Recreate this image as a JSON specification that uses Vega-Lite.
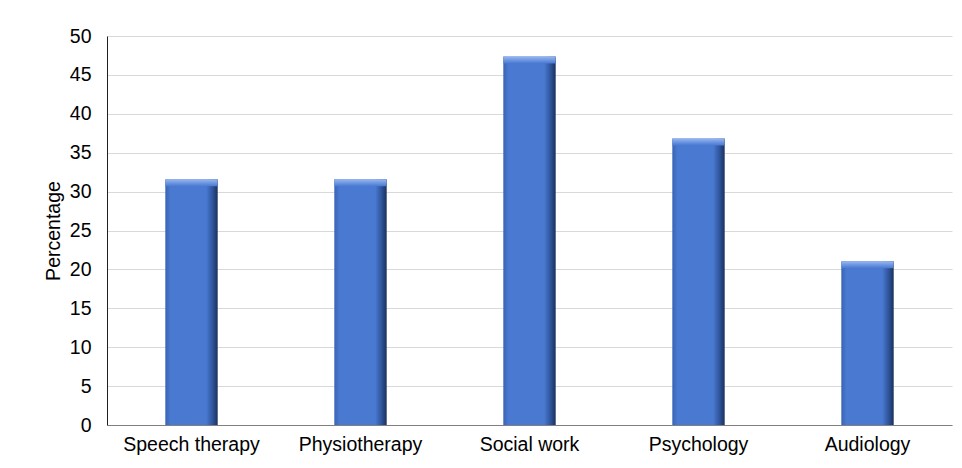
{
  "$schema": "https://vega.github.io/schema/vega-lite/v6.json",
  "width": 845,
  "height": 389,
  "autosize": {"type": "none"},
  "padding": {"left": 107, "top": 36, "right": 10, "bottom": 43},
  "background": "white",
  "config": {
    "view": {"stroke": null},
    "font": "Liberation Sans",
    "axis": {"labelFont": "Liberation Sans", "titleFont": "Liberation Sans"}
  },
  "data": {
    "values": [
      {"field": "Speech therapy", "pct": 31.58},
      {"field": "Physiotherapy", "pct": 31.58},
      {"field": "Social work", "pct": 47.37},
      {"field": "Psychology", "pct": 36.84},
      {"field": "Audiology", "pct": 21.05}
    ]
  },
  "encoding": {
    "x": {
      "field": "field",
      "type": "nominal",
      "sort": null,
      "scale": {"paddingInner": 0.69, "paddingOuter": 0.345},
      "axis": {
        "title": null,
        "labelAngle": 0,
        "labelFontSize": 19.5,
        "labelColor": "#000000",
        "labelPadding": 10,
        "ticks": false,
        "domainColor": "#808080",
        "domainWidth": 1.2
      }
    },
    "y": {
      "field": "pct",
      "type": "quantitative",
      "scale": {"domain": [0, 50], "nice": false},
      "axis": {
        "title": "Percentage",
        "titleFontSize": 19.5,
        "titleFontWeight": "normal",
        "titleColor": "#000000",
        "titlePadding": 6,
        "values": [0, 5, 10, 15, 20, 25, 30, 35, 40, 45, 50],
        "labelFontSize": 19.5,
        "labelColor": "#000000",
        "labelPadding": 16,
        "ticks": false,
        "domainColor": "#202020",
        "domainWidth": 1,
        "gridColor": "#d9d9d9",
        "gridWidth": 1
      }
    }
  },
  "layer": [
    {
      "mark": {
        "type": "bar",
        "fill": {
          "gradient": "linear",
          "x1": 0, "y1": 0, "x2": 1, "y2": 0,
          "stops": [
            {"offset": 0, "color": "#3a64b4"},
            {"offset": 0.1, "color": "#4a79d1"},
            {"offset": 0.78, "color": "#4a79d1"},
            {"offset": 0.9, "color": "#2f559c"},
            {"offset": 1, "color": "#1b315c"}
          ]
        }
      }
    },
    {
      "mark": {
        "type": "tick",
        "size": 52,
        "thickness": 7,
        "yOffset": 3.5,
        "opacity": 1,
        "fill": {
          "gradient": "linear",
          "x1": 0, "y1": 0, "x2": 0, "y2": 1,
          "stops": [
            {"offset": 0, "color": "#9ab8f0"},
            {"offset": 0.5, "color": "#6f97e2"},
            {"offset": 1, "color": "#4a79d1"}
          ]
        },
        "stroke": null
      }
    }
  ]
}
